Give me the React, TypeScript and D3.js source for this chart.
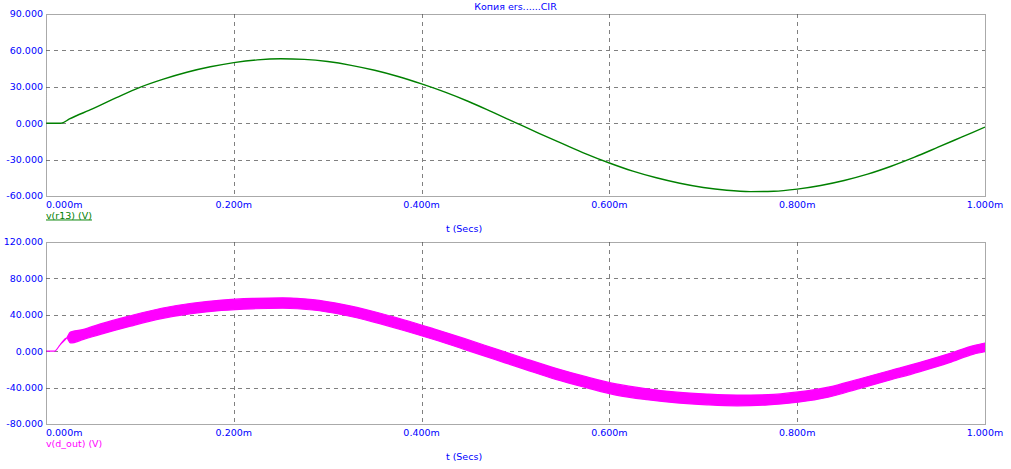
import React from "react";
import * as d3 from "d3";

const title = "Копия ers......CIR";
const xTicks = [0, 0.2, 0.4, 0.6, 0.8, 1.0];
const xTickLabels = ["0.000m", "0.200m", "0.400m", "0.600m", "0.800m", "1.000m"];
const topYTicks = [90, 60, 30, 0, -30, -60];
const topYLabels = ["90.000", "60.000", "30.000", "0.000", "-30.000", "-60.000"];
const botYTicks = [120, 80, 40, 0, -40, -80];
const botYLabels = ["120.000", "80.000", "40.000", "0.000", "-40.000", "-80.000"];

// v(r13) samples (time in ms)
const r13Time = [0, 0.016, 0.025, 0.05, 0.075, 0.1, 0.125, 0.15, 0.175, 0.2, 0.225, 0.25, 0.275, 0.3, 0.325, 0.35, 0.375, 0.4, 0.425, 0.45, 0.475, 0.5, 0.525, 0.55, 0.575, 0.6, 0.625, 0.65, 0.675, 0.7, 0.725, 0.75, 0.775, 0.8, 0.825, 0.85, 0.875, 0.9, 0.925, 0.95, 0.975, 1.0];
const r13Values = [0, 0, 3.5, 12, 21, 29.5, 36.3, 42, 46.5, 49.9, 52.2, 53.1, 52.6, 50.8, 47.7, 43.6, 38.5, 32.4, 25.6, 17.9, 9.3, 0.5, -8.3, -16.8, -25.2, -32.8, -39.5, -45.0, -49.5, -53.0, -55.3, -56.4, -56.1, -54.3, -51.3, -47.2, -42.0, -35.5, -28.0, -19.8, -11.5, -3.2];

// v(d_out) envelope (upper / lower of the ripple band)
const doutTime = [0, 0.009, 0.015, 0.022, 0.026, 0.04, 0.058, 0.09, 0.123, 0.155, 0.187, 0.22, 0.252, 0.284, 0.317, 0.349, 0.381, 0.413, 0.446, 0.478, 0.51, 0.543, 0.575, 0.607, 0.64, 0.672, 0.704, 0.736, 0.769, 0.801, 0.833, 0.866, 0.898, 0.93, 0.962, 0.988, 1.0];
const doutUpper = [0, 0, 7, 14.5, 21, 24, 30, 39, 47.2, 52.7, 56.2, 58, 58.6, 56.7, 51.2, 43.6, 34.6, 24.6, 13.8, 2.9, -8, -18.8, -28, -36, -41.3, -45, -47.1, -48.2, -47.8, -44.8, -39.5, -30.5, -21.5, -12.5, -2.6, 6.2, 9];
const doutLower = [0, 0, 7, 14.5, 9, 13, 18.5, 27.5, 35.8, 41.3, 44.8, 46.6, 47.2, 45.3, 39.8, 32, 22.8, 12.8, 1.8, -9.1, -20, -31, -40, -48.2, -53.3, -56.8, -58.9, -60, -59, -56, -50.5, -41.1, -31.9, -22.7, -12.6, -3.2, -0.6];

const FONT = "'DejaVu Sans', Verdana, sans-serif";
const BLUE = "#0000ff";
const GRID = "#808080";

const X0 = 46;
const X1 = 985;

type PanelProps = {
  top: number;
  bottom: number;
  yTicks: number[];
  yLabels: string[];
  legend: string;
  color: string;
  underline: boolean;
  children: (x: d3.ScaleLinear<number, number>, y: d3.ScaleLinear<number, number>) => React.ReactNode;
};

function Panel({ top, bottom, yTicks, yLabels, legend, color, underline, children }: PanelProps) {
  const x = d3.scaleLinear().domain([0, 1]).range([X0, X1]);
  const y = d3.scaleLinear().domain([yTicks[yTicks.length - 1], yTicks[0]]).range([bottom, top]);
  const clipId = `clip-${top}`;
  return (
    <g>
      <defs>
        <clipPath id={clipId}>
          <rect x={X0} y={top} width={X1 - X0} height={bottom - top} />
        </clipPath>
      </defs>
      {yTicks.slice(1, -1).map((t) => (
        <line key={"h" + t} x1={X0} x2={X1} y1={Math.round(y(t)) + 0.5} y2={Math.round(y(t)) + 0.5} stroke={GRID} strokeDasharray="4,4" />
      ))}
      {xTicks.slice(1, -1).map((t) => (
        <line key={"v" + t} x1={Math.round(x(t)) + 0.5} x2={Math.round(x(t)) + 0.5} y1={top} y2={bottom} stroke={GRID} strokeDasharray="4,4" />
      ))}
      <g clipPath={`url(#${clipId})`}>{children(x, y)}</g>
      <rect x={X0 + 0.5} y={top + 0.5} width={X1 - X0} height={bottom - top} fill="none" stroke="#555" strokeDasharray="1,1" />
      {yTicks.map((t, i) => (
        <text key={"yl" + t} x={43} y={y(t)} dy="0.35em" textAnchor="end" fontFamily={FONT} fontSize={9.5} fill={BLUE}>
          {yLabels[i]}
        </text>
      ))}
      {xTicks.map((t, i) => (
        <text
          key={"xl" + t}
          x={i === 0 ? X0 : x(t)}
          y={bottom + 11.5}
          textAnchor={i === 0 ? "start" : "middle"}
          fontFamily={FONT}
          fontSize={9.5}
          fill={BLUE}
        >
          {xTickLabels[i]}
        </text>
      ))}
      <text x={X0} y={bottom + 22.5} fontFamily={FONT} fontSize={9.5} fill={color} textDecoration={underline ? "underline" : undefined}>
        {legend}
      </text>
      <text x={464} y={bottom + 36} textAnchor="middle" fontFamily={FONT} fontSize={9.5} fill={BLUE}>
        t (Secs)
      </text>
    </g>
  );
}

export default function App() {
  return (
    <svg width={1011} height={469} style={{ position: "absolute", left: 0, top: 0, background: "#fff" }}>
      <rect x={0} y={0} width={1011} height={469} fill="#fff" />
      <text x={(X0 + X1) / 2} y={9.5} textAnchor="middle" fontFamily={FONT} fontSize={9.5} fill={BLUE}>
        {title}
      </text>
      <Panel top={14} bottom={196} yTicks={topYTicks} yLabels={topYLabels} legend="v(r13) (V)" color="#008000" underline={true}>
        {(x, y) => {
          const line = d3
            .line<number>()
            .x((_, i) => x(r13Time[i]))
            .y((d) => y(d))
            .curve(d3.curveMonotoneX);
          return <path d={line(r13Values) || ""} fill="none" stroke="#008000" strokeWidth={1.4} />;
        }}
      </Panel>
      <Panel top={242} bottom={424} yTicks={botYTicks} yLabels={botYLabels} legend="v(d_out) (V)" color="#ff00ff" underline={false}>
        {(x, y) => {
          const area = d3
            .area<number>()
            .x((_, i) => x(doutTime[i]))
            .y0((_, i) => y(doutLower[i]))
            .y1((d) => y(d))
            .curve(d3.curveMonotoneX);
          return <path d={area(doutUpper) || ""} fill="#ff00ff" stroke="#ff00ff" strokeWidth={1.2} />;
        }}
      </Panel>
    </svg>
  );
}
